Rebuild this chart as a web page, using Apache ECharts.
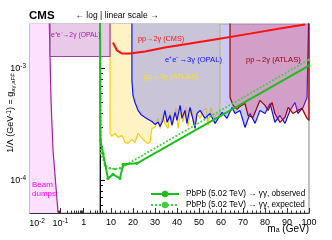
<!DOCTYPE html>
<html><head><meta charset="utf-8">
<script src="https://cdn.jsdelivr.net/npm/echarts@6/dist/echarts.min.js"></script>
<style>html,body{margin:0;padding:0;background:#fff}#c{width:332px;height:240px}</style>
</head><body><div id="c"></div>
<script>
// axis ranges
const Y_MIN = 5.1e-5, Y_MAX = 2.5e-3;
const LOG_X_MIN = 0.005, LOG_X_MAX = 5, LIN_X_MIN = 5, LIN_X_MAX = 100;

// tick values
const logXMajor = [0.01, 0.1, 1];
const logXMinor = [0.006,0.007,0.008,0.009,0.02,0.03,0.04,0.05,0.06,0.07,0.08,0.09,0.2,0.3,0.4,0.5,0.6,0.7,0.8,0.9,2,3,4];
const linXMajor = [10,20,30,40,50,60,70,80,90,100];
const linXMinor = [6,8,12,14,16,18,22,24,26,28,32,34,36,38,42,44,46,48,52,54,56,58,62,64,66,68,72,74,76,78,82,84,86,88,92,94,96,98];
const yMajor = [1e-4, 1e-3];
const yMinor = [6e-5,7e-5,8e-5,9e-5,2e-4,3e-4,4e-4,5e-4,6e-4,7e-4,8e-4,9e-4,2e-3];

// Beam dumps excluded region edge (log part)
const beamDump = [[0.005,4e-3],[0.032,4e-3],[0.0398,5.18e-4],[0.0485,1.85e-4],[0.0794,5.18e-5],[0.082,4e-5]];
// e+e- -> 2gamma (OPAL) box
const opal2gLog = [[0.036,4e-3],[0.036,1.28e-3],[5,1.28e-3]];
const opal2gLin = [[5,1.28e-3],[9.55,1.28e-3],[9.55,4e-3]];
// pp -> 3gamma (ATLAS)
const atlas3g = [[9.55,4e-3],[9.55,2.63e-4],[10.45,2.47e-4],[11.8,2.63e-4],[13.2,2.42e-4],[15.0,2.52e-4],[16.4,2.18e-4],[17.7,2.14e-4],[19.5,2.32e-4],[20.9,2.18e-4],[22.3,2.63e-4],[24.1,2.37e-4],[26.4,2.14e-4],[27.7,2.18e-4],[28.6,2.91e-4],[30.0,2.97e-4],[31.4,3.58e-4],[32.3,2.91e-4],[33.6,3.80e-4],[34.5,3.23e-4],[35.9,2.91e-4],[36.8,4.05e-4],[38.2,3.23e-4],[39.5,4.40e-4],[40.5,2.91e-4],[41.8,4.22e-4],[42.7,3.30e-4],[44.1,4.49e-4],[45.0,3.03e-4],[46.4,4.40e-4],[47.7,3.10e-4],[49.1,3.96e-4],[50.5,3.58e-4],[51.8,4.22e-4],[53.2,4.40e-4],[54.1,3.10e-4],[55.5,4.49e-4],[56.8,3.58e-4],[58.2,3.96e-4],[59.5,3.80e-4],[59.5,4e-3]];
// e+e- -> 3gamma (OPAL)
const opal3g = [[19.5,4e-3],[19.5,7.81e-4],[20.0,5.74e-4],[20.9,4.97e-4],[22.3,4.22e-4],[23.6,3.88e-4],[25.5,3.65e-4],[26.8,3.51e-4],[28.6,3.36e-4],[30.0,3.16e-4],[31.4,3.30e-4],[32.3,3.03e-4],[33.6,3.43e-4],[34.5,4.22e-4],[35.5,3.30e-4],[36.8,3.80e-4],[37.7,3.10e-4],[39.1,4.05e-4],[40.0,3.43e-4],[41.4,4.68e-4],[42.3,3.58e-4],[43.6,4.22e-4],[44.5,3.23e-4],[45.9,4.49e-4],[46.8,3.80e-4],[48.2,2.91e-4],[49.1,3.96e-4],[50.5,4.22e-4],[52.7,3.58e-4],[55.0,3.96e-4],[57.3,3.23e-4],[60.5,4.05e-4],[62.7,3.58e-4],[65.0,4.49e-4],[66.4,3.96e-4],[68.6,4.22e-4],[70.9,2.97e-4],[73.2,3.96e-4],[75.5,3.23e-4],[77.7,4.22e-4],[80.0,3.96e-4],[82.3,4.87e-4],[84.5,3.30e-4],[86.8,3.80e-4],[89.1,3.23e-4],[91.4,4.22e-4],[93.6,4.97e-4],[95.0,3.96e-4],[97.3,4.49e-4],[99.1,5.51e-4],[100,5.74e-4],[100,4e-3]];
// pp -> 2gamma (ATLAS)
const atlas2g = [[64.1,4e-3],[64.1,5.51e-4],[65.5,4.68e-4],[67.3,4.31e-4],[68.6,4.58e-4],[70.9,4.87e-4],[72.3,3.80e-4],[74.5,3.65e-4],[77.7,5.18e-4],[80.0,4.68e-4],[81.4,4.22e-4],[83.2,4.97e-4],[84.5,3.96e-4],[86.8,3.30e-4],[89.1,3.65e-4],[90.5,4.49e-4],[92.7,3.96e-4],[95.0,4.22e-4],[96.8,4.40e-4],[99.1,3.58e-4],[100,3.43e-4],[100,4e-3]];
// pp -> 2gamma (CMS)
const cms2g = [[10.9,1.71e-3],[12.7,1.45e-3],[15.0,1.36e-3],[18.6,1.36e-3],[25.5,1.42e-3],[34.5,1.54e-3],[45.9,1.67e-3],[57.3,1.82e-3],[73.2,2.05e-3],[86.8,2.28e-3],[98.2,2.47e-3]];
// PbPb limits
const pbpbObserved = [[5.0,4e-3],[5.2,2.28e-4],[6.4,1.74e-4],[8.6,1.04e-4],[10.9,1.13e-4],[14.1,1.04e-4],[15.5,1.39e-4],[21.8,1.42e-4],[100,1.06e-3]];
const pbpbExpected = [[5.0,4e-3],[5.4,1.75e-4],[7.3,1.36e-4],[9.5,1.28e-4],[11.8,1.26e-4],[14.1,1.28e-4],[16.4,1.36e-4],[100,1.20e-3]];

const FONT = '"Liberation Sans", Arial, Helvetica, sans-serif';
const OBS = 'PbPb (5.02 TeV) \u2192 \u03b3\u03b3, observed';
const EXP = 'PbPb (5.02 TeV) \u2192 \u03b3\u03b3, expected';

function powLabel(v){
  const l = Math.log10(v), e = Math.round(l);
  if (Math.abs(l - e) > 1e-6) return '';
  if (e === 0) return '1';
  if (e === 1) return '10';
  return '{b|10}{s|' + e + '}';
}
const powRich = {b:{fontSize:9, fontFamily:FONT, color:'#000', lineHeight:12}, s:{fontSize:6.5, fontFamily:FONT, color:'#000', verticalAlign:'top', lineHeight:12}};

const charts = echarts.init(document.getElementById('c'), null, {renderer:'canvas'});

function region(name, xi, data, fill, line, origin, z){
  return {type:'line', name, xAxisIndex:xi, yAxisIndex:xi, data, symbol:'none', clip:true, z,
    lineStyle:{color:line, width:1.2}, areaStyle:{color:fill, origin, opacity:1}, silent:true};
}

const option = {
  animation:false,
  grid:[
    {left:30, top:24, width:70, height:189, show:true, borderColor:'#999', borderWidth:1.2, backgroundColor:'transparent'},
    {left:100, top:24, width:209, height:189, show:true, borderColor:'#999', borderWidth:1.2, backgroundColor:'transparent'}
  ],
  xAxis:[
    {type:'log', gridIndex:0, min:LOG_X_MIN, max:LOG_X_MAX, position:'bottom',
      axisLine:{lineStyle:{color:'#333'}}, splitLine:{show:false},
      axisTick:{inside:true, length:5, customValues:logXMajor, lineStyle:{color:'#333'}},
      axisLabel:{customValues:logXMajor, formatter:powLabel, rich:powRich, margin:5, fontSize:9, fontFamily:FONT, color:'#000'}},
    {type:'log', gridIndex:0, min:LOG_X_MIN, max:LOG_X_MAX, position:'bottom',
      axisLine:{show:false}, splitLine:{show:false}, axisLabel:{show:false},
      axisTick:{inside:true, length:2.5, customValues:logXMinor, lineStyle:{color:'#333'}}},
    {type:'value', gridIndex:1, min:LIN_X_MIN, max:LIN_X_MAX, position:'bottom',
      axisLine:{lineStyle:{color:'#333'}}, splitLine:{show:false},
      axisTick:{inside:true, length:5, customValues:linXMajor, lineStyle:{color:'#333'}},
      axisLabel:{customValues:linXMajor, margin:5, fontSize:9, fontFamily:FONT, color:'#000'}},
    {type:'value', gridIndex:1, min:LIN_X_MIN, max:LIN_X_MAX, position:'bottom',
      axisLine:{show:false}, splitLine:{show:false}, axisLabel:{show:false},
      axisTick:{inside:true, length:2.5, customValues:linXMinor, lineStyle:{color:'#333'}}}
  ],
  yAxis:[
    {type:'log', gridIndex:0, min:Y_MIN, max:Y_MAX, position:'left',
      axisLine:{lineStyle:{color:'#999'}}, splitLine:{show:false},
      axisTick:{inside:true, length:5, customValues:yMajor, lineStyle:{color:'#333'}},
      axisLabel:{customValues:yMajor, formatter:powLabel, rich:powRich, margin:4, fontSize:9, fontFamily:FONT, color:'#000'}},
    {type:'log', gridIndex:0, min:Y_MIN, max:Y_MAX, position:'left',
      axisLine:{show:false}, splitLine:{show:false}, axisLabel:{show:false},
      axisTick:{inside:true, length:3, customValues:yMinor, lineStyle:{color:'#333'}}},
    {type:'log', gridIndex:1, min:Y_MIN, max:Y_MAX, position:'left',
      axisLine:{lineStyle:{color:'#000'}}, splitLine:{show:false}, axisLabel:{show:false},
      axisTick:{inside:true, length:5, customValues:yMajor, lineStyle:{color:'#000'}}},
    {type:'log', gridIndex:1, min:Y_MIN, max:Y_MAX, position:'left',
      axisLine:{show:false}, splitLine:{show:false}, axisLabel:{show:false},
      axisTick:{inside:true, length:3, customValues:yMinor, lineStyle:{color:'#000'}}}
  ],
  legend:{data:[OBS, EXP], orient:'vertical', left:145, top:185, itemWidth:28, itemHeight:8, itemGap:3,
    textStyle:{fontSize:8.2, fontFamily:FONT, color:'#000', padding:[0,0,0,2]}},
  series:[
    region('beam', 0, beamDump, '#fde0fd', '#a020a0', 'start', 2),
    region('opal2gL', 0, opal2gLog, '#e8c9e8', '#a040a8', 'end', 3),
    region('opal2gR', 2, opal2gLin, '#e8c9e8', '#a040a8', 'end', 3),
    region('atlas3g', 2, atlas3g, '#fff3c6', '#ffcc00', 'end', 2),
    region('opal3g', 2, opal3g, 'rgba(150,150,235,0.5)', '#1010ff', 'end', 3),
    region('atlas2g', 2, atlas2g, 'rgba(230,60,100,0.3)', '#a00000', 'end', 4),
    {type:'line', name:'cms', xAxisIndex:2, yAxisIndex:2, data:cms2g, symbol:'none', z:5, smooth:false,
      lineStyle:{color:'#ff1010', width:2}},
    {type:'line', name:EXP, xAxisIndex:2, yAxisIndex:2, data:pbpbExpected, symbol:'circle', symbolSize:2.5, z:6,
      itemStyle:{color:'#3fcf3f'}, lineStyle:{color:'#3fcf3f', width:1.8, type:'dotted'}},
    {type:'line', name:OBS, xAxisIndex:2, yAxisIndex:2, data:pbpbObserved, symbol:'circle', symbolSize:3, z:7,
      itemStyle:{color:'#1bbf1b'}, lineStyle:{color:'#1bbf1b', width:2}}
  ],
  graphic:[
    {type:'text', x:29, y:16, style:{text:'CMS', font:'bold 11.5px '+FONT, fill:'#000', align:'left', verticalAlign:'middle', textAlign:'left', textVerticalAlign:'middle'}},
    {type:'text', x:117, y:16, style:{text:'\u2190 log | linear scale \u2192', font:'8.5px '+FONT, fill:'#000', align:'center', verticalAlign:'middle', textAlign:'center', textVerticalAlign:'middle'}},
    {type:'text', x:51, y:35, z:20, style:{text:'e\u207ae\u207b\u21922\u03b3 (OPAL)', font:'6.8px '+FONT, fill:'#a020a8', align:'left', verticalAlign:'middle'}},
    {type:'text', x:138, y:39, z:20, style:{text:'pp\u21922\u03b3 (CMS)', font:'7.3px '+FONT, fill:'#ff1010', align:'left', verticalAlign:'middle'}},
    {type:'text', x:165, y:60, z:20, style:{text:'e\u207ae\u207b\u21923\u03b3 (OPAL)', font:'7.6px '+FONT, fill:'#1010ff', align:'left', verticalAlign:'middle'}},
    {type:'text', x:144, y:77, z:20, style:{text:'pp\u21923\u03b3 (ATLAS)', font:'7.6px '+FONT, fill:'#ffe600', align:'left', verticalAlign:'middle'}},
    {type:'text', x:246, y:60, z:20, style:{text:'pp\u21922\u03b3 (ATLAS)', font:'7.6px '+FONT, fill:'#a00000', align:'left', verticalAlign:'middle'}},
    {type:'text', x:32, y:189, z:20, style:{text:'Beam\ndumps', font:'8px '+FONT, fill:'#ff00ff', align:'left', verticalAlign:'middle', lineHeight:9}},
    {type:'text', x:309, y:229, style:{text:'m{sub|a} (GeV)', font:'10px '+FONT, fill:'#000', align:'right', verticalAlign:'middle',
      rich:{sub:{fontSize:7, fontFamily:FONT, verticalAlign:'bottom', lineHeight:8, fill:'#000'}}}},
    {type:'text', x:11, y:113, rotation:Math.PI/2, style:{text:'1/\u039b (GeV{sup|-1}) = g{sub|a\u03b3,aFF\u0304}', font:'9px '+FONT, fill:'#000', align:'center', verticalAlign:'middle',
      rich:{sup:{fontSize:6.5, fontFamily:FONT, verticalAlign:'top', lineHeight:11, fill:'#000'}, sub:{fontSize:6, fontFamily:FONT, verticalAlign:'bottom', lineHeight:11, fill:'#000'}}}}
  ]
};
charts.setOption(option);
</script></body></html>
